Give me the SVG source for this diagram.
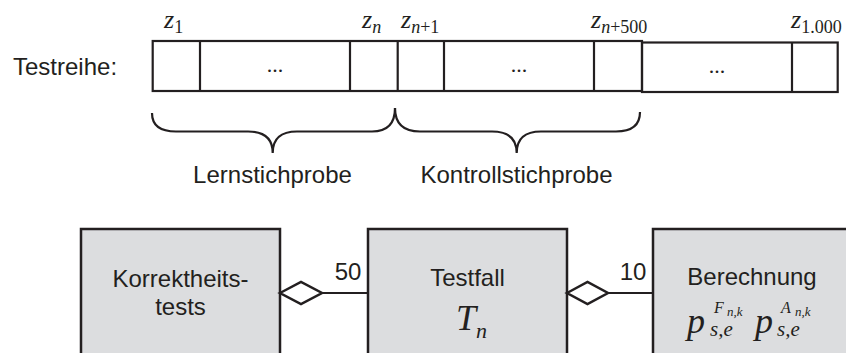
<svg xmlns="http://www.w3.org/2000/svg" width="846" height="353" viewBox="0 0 846 353">
<style>
.s{font-family:"Liberation Sans",Arial,sans-serif;font-size:24px;fill:#231f20}
.m{font-family:"Liberation Serif","Times New Roman",serif;font-style:italic;fill:#231f20}
.r{font-family:"Liberation Serif","Times New Roman",serif;fill:#231f20}
.ln{fill:none;stroke:#231f20;stroke-width:2.2}
.box{fill:#dcdddf;stroke:#231f20;stroke-width:2.5}
.dia{fill:#ffffff;stroke:#231f20;stroke-width:2.5;stroke-linejoin:miter}
</style>
<rect width="846" height="353" fill="#ffffff"/>
<g id="testreihe">
<text class="s" x="13" y="75">Testreihe:</text>
<rect class="ln" x="152.7" y="41" width="489.3" height="50"/>
<rect class="ln" x="642" y="42.5" width="195.7" height="49.5"/>
<line class="ln" x1="200" y1="41" x2="200" y2="91"/>
<line class="ln" x1="350" y1="41" x2="350" y2="91"/>
<line class="ln" x1="397.7" y1="41" x2="397.7" y2="91"/>
<line class="ln" x1="444" y1="41" x2="444" y2="91"/>
<line class="ln" x1="594" y1="41" x2="594" y2="91"/>
<line class="ln" x1="792" y1="42.5" x2="792" y2="92"/>
<text class="r" x="275" y="72" font-size="22" text-anchor="middle">...</text>
<text class="r" x="519" y="72" font-size="22" text-anchor="middle">...</text>
<text class="r" x="717" y="73" font-size="22" text-anchor="middle">...</text>
<text x="164" y="27.5"><tspan class="m" font-size="26">z</tspan><tspan class="r" font-size="18" dy="5.5">1</tspan></text>
<text x="362" y="27.5"><tspan class="m" font-size="26">z</tspan><tspan class="m" font-size="18" dy="5.5">n</tspan></text>
<text x="401" y="27.5"><tspan class="m" font-size="26">z</tspan><tspan class="m" font-size="18" dy="5.5">n</tspan><tspan class="r" font-size="18">+1</tspan></text>
<text x="591" y="27.5"><tspan class="m" font-size="26">z</tspan><tspan class="m" font-size="18" dy="5.5">n</tspan><tspan class="r" font-size="18">+500</tspan></text>
<text x="791" y="27.5"><tspan class="m" font-size="26">z</tspan><tspan class="r" font-size="18" dy="5.5">1.000</tspan></text>
</g>
<g id="braces">
<path class="ln" d="M152,113 Q152,131.5 176,131.5 L248,131.5 Q272.7,131.5 272.7,153 Q272.7,131.5 297,131.5 L372,131.5 Q395,131.5 395,108"/>
<path class="ln" d="M395,108 Q395,131.5 420,131.5 L492,131.5 Q516.7,131.5 516.7,153 Q516.7,131.5 541,131.5 L616,131.5 Q640,131.5 640,112"/>
<text class="s" x="272.5" y="183" text-anchor="middle">Lernstichprobe</text>
<text class="s" x="516.5" y="183" text-anchor="middle">Kontrollstichprobe</text>
</g>
<g id="korrektheitstests">
<rect class="box" x="81" y="229" width="199" height="150"/>
<text class="s" x="180.5" y="287" text-anchor="middle">Korrektheits-</text>
<text class="s" x="180.5" y="315" text-anchor="middle">tests</text>
</g>
<g id="testfall">
<rect class="box" x="368" y="229" width="199" height="150"/>
<text class="s" x="467.5" y="286" text-anchor="middle">Testfall</text>
<text x="456" y="330"><tspan class="m" font-size="36">T</tspan><tspan class="m" font-size="22" dy="8">n</tspan></text>
</g>
<g id="berechnung">
<rect class="box" x="653" y="229" width="199" height="150"/>
<text class="s" x="752" y="285" text-anchor="middle">Berechnung</text>
<text x="687" y="333" class="m" font-size="36">p</text>
<text x="710" y="336" class="m" font-size="21">s,e</text>
<text x="714" y="313" class="m" font-size="16">F</text>
<text x="727" y="316" class="m" font-size="13">n,k</text>
<text x="755" y="333" class="m" font-size="36">p</text>
<text x="777" y="336" class="m" font-size="21">s,e</text>
<text x="781" y="313" class="m" font-size="16">A</text>
<text x="795" y="316" class="m" font-size="13">n,k</text>
</g>
<g id="connectors">
<polygon class="dia" points="280,293 301,282 322,293 301,304"/>
<line class="ln" stroke-width="2.5" x1="322" y1="293" x2="368" y2="293"/>
<text class="s" x="348" y="280" text-anchor="middle">50</text>
<polygon class="dia" points="567,293 587.5,282 608,293 587.5,304"/>
<line class="ln" stroke-width="2.5" x1="608" y1="293" x2="653" y2="293"/>
<text class="s" x="633" y="280" text-anchor="middle">10</text>
</g>
</svg>
